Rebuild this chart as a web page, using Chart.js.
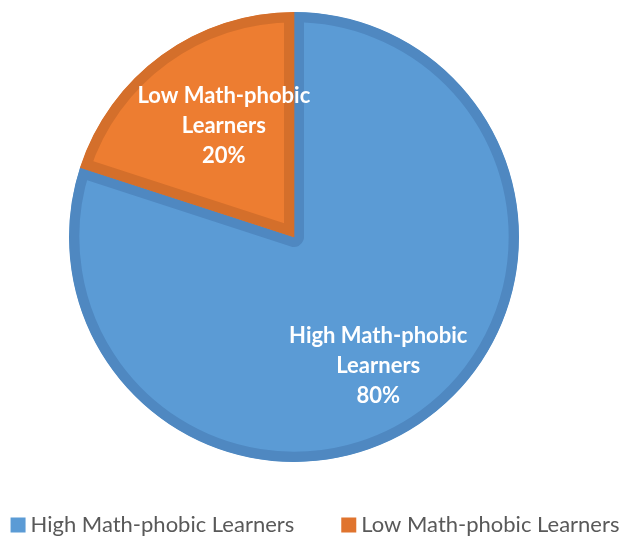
<!DOCTYPE html>
<html><head><meta charset="utf-8">
<script src="https://cdn.jsdelivr.net/npm/chart.js@4"></script>
<style>html,body{margin:0;padding:0;background:#fff;}#c{display:block;}</style>
</head><body>
<canvas id="c" width="624" height="536"></canvas>
<script>
const categories = ["High Math-phobic Learners", "Low Math-phobic Learners"];
const values = [80, 20];
const percentLabels = ["80%", "20%"];
const fillColors = ["#5B9BD5", "#ED7D31"];
const borderColors = ["#4F88C1", "#D46F2B"];
const legendBoxColors = ["#5B9BD5", "#E0742E"];
const labelRadiusFrac = [0.685, 0.585];
const labelAngleShift = [0.05, 0.066];

const sliceLabels = {
  id: 'sliceLabels',
  afterDatasetsDraw(chart) {
    const ctx = chart.ctx;
    const meta = chart.getDatasetMeta(0);
    ctx.save();
    ctx.fillStyle = '#fff';
    ctx.font = 'bold 22px Lato';
    ctx.textAlign = 'center';
    ctx.textBaseline = 'middle';
    meta.data.forEach((arc, i) => {
      const p = arc.getProps(['x','y','startAngle','endAngle','outerRadius'], true);
      const a = (p.startAngle + p.endAngle) / 2 + labelAngleShift[i];
      const r = p.outerRadius * labelRadiusFrac[i];
      const cx = p.x + Math.cos(a) * r;
      const cy = p.y + Math.sin(a) * r;
      const words = categories[i].split(' ');
      const lines = [words[0] + ' ' + words[1], words.slice(2).join(' '), percentLabels[i]];
      const lh = 30;
      lines.forEach((t, k) => ctx.fillText(t, cx, cy + (k - 1) * lh));
    });
    ctx.restore();
  }
};

const bottomLegend = {
  id: 'bottomLegend',
  afterDraw(chart) {
    const ctx = chart.ctx;
    ctx.save();
    ctx.font = '22px Lato';
    ctx.textBaseline = 'middle';
    ctx.textAlign = 'left';
    const box = 15, gap = 5, itemGap = 47;
    const labels = chart.data.labels;
    const widths = labels.map(t => ctx.measureText(t).width);
    let total = 0;
    widths.forEach((w, i) => { total += box + gap + w + (i ? itemGap : 0); });
    let x = 315 - total / 2;
    const yc = 525;
    labels.forEach((t, i) => {
      ctx.fillStyle = legendBoxColors[i];
      ctx.fillRect(x, yc - box / 2, box, box);
      ctx.fillStyle = '#595959';
      ctx.fillText(t, x + box + gap, yc);
      x += box + gap + widths[i] + itemGap;
    });
    ctx.restore();
  }
};

new Chart(document.getElementById('c'), {
  type: 'pie',
  data: {
    labels: categories,
    datasets: [{
      data: values,
      backgroundColor: fillColors,
      borderColor: borderColors,
      borderWidth: 10,
      borderAlign: 'inner'
    }]
  },
  options: {
    responsive: false,
    animation: false,
    layout: { padding: { top: 12, left: 69, right: 105, bottom: 74 } },
    plugins: {
      tooltip: { enabled: false },
      legend: { display: false }
    }
  },
  plugins: [sliceLabels, bottomLegend]
});
</script>
</body></html>
